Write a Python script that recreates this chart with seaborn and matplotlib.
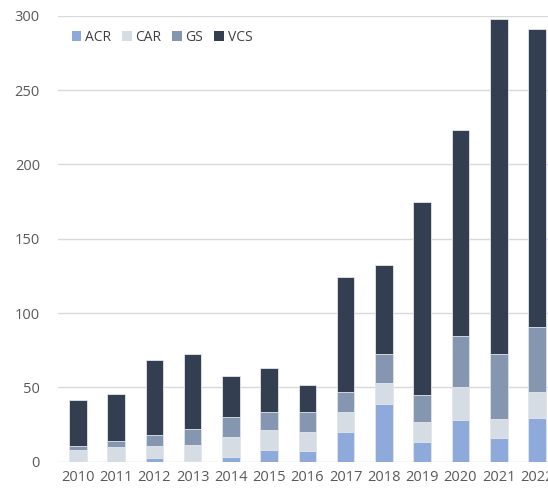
import matplotlib
matplotlib.use("Agg")
import matplotlib.pyplot as plt
from matplotlib.patches import Patch
import numpy as np
import pandas as pd
import seaborn as sns

years = ["2010", "2011", "2012", "2013", "2014", "2015", "2016",
         "2017", "2018", "2019", "2020", "2021", "2022"]
acr = [0, 0, 2.3, 0.5, 3.0, 7.9, 7.2, 20.2, 38.8, 13.0, 28.0, 15.9, 29.2]
car = [7.9, 9.7, 8.2, 10.9, 13.4, 13.6, 13.0, 13.0, 13.9, 13.9, 22.4, 12.6, 17.5]
gs = [2.6, 4.2, 7.2, 10.4, 13.6, 11.9, 13.0, 13.7, 19.7, 18.1, 34.1, 43.7, 43.7]
vcs = [30.8, 31.4, 50.5, 50.8, 27.6, 29.6, 18.2, 77.1, 60.1, 129.6, 138.4, 225.7, 200.8]
series_names = ["ACR", "CAR", "GS", "VCS"]
colors = {"ACR": "#8eaadb", "CAR": "#d6dce4", "GS": "#8496b0", "VCS": "#333f50"}

sns.set_theme(style="white")
plt.rcParams["font.family"] = ["Open Sans", "DejaVu Sans"]

df = pd.DataFrame({"year": years, "ACR": acr, "CAR": car, "GS": gs, "VCS": vcs})
cum = df[series_names].cumsum(axis=1)

fig = plt.figure(figsize=(5.48, 4.88), dpi=100)
ax = fig.add_axes([0.1058, 0.0539, 0.909, 0.914])

for name in reversed(series_names):
    d = pd.DataFrame({"year": years, "val": cum[name]})
    sns.barplot(data=d, x="year", y="val", order=years, color=colors[name],
                saturation=1, width=0.46, edgecolor="#e4e7ec", linewidth=0.6,
                ax=ax, errorbar=None)

ax.set_xlim(-0.52, 12.5)
ax.set_ylim(0, 300)
ax.set_yticks([0, 50, 100, 150, 200, 250, 300])
ax.yaxis.grid(True, color="#d9d9d9", linewidth=1.0)
ax.set_axisbelow(True)
for s in ax.spines.values():
    s.set_visible(False)
ax.tick_params(axis="both", length=0, labelsize=10.5, labelcolor="#595959")
ax.tick_params(axis="y", pad=13)
ax.tick_params(axis="x", pad=6)
ax.set_xlabel("")
ax.set_ylabel("")

handles = [Patch(facecolor=colors[n], edgecolor="none", label=n) for n in series_names]
fig.legend(handles=handles, loc="center left", bbox_to_anchor=(0.108, 0.924),
           ncol=4, frameon=False, fontsize=10, handlelength=0.7, handleheight=0.7,
           handletextpad=0.25, columnspacing=0.8, labelcolor="#404040")

fig.savefig("out.png", dpi=100)
